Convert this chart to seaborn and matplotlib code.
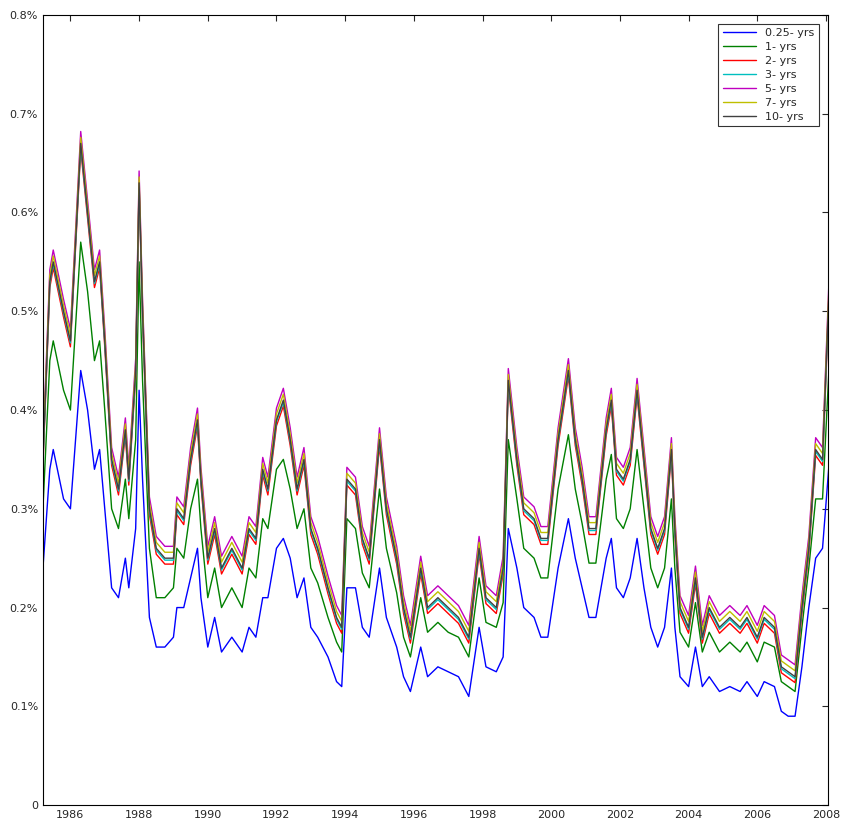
import pandas as pd
import matplotlib.pyplot as plt
import matplotlib.ticker as mticker
import seaborn as sns

# time points (decimal years)
years = [1985.2, 1985.4, 1985.5, 1985.8,
         1986.0, 1986.3, 1986.5, 1986.7, 1986.85,
         1987.0, 1987.2, 1987.4, 1987.6, 1987.7, 1987.9,
         1988.0, 1988.1, 1988.3, 1988.5, 1988.75,
         1989.0, 1989.1, 1989.3, 1989.5, 1989.7, 1989.8,
         1990.0, 1990.2, 1990.4, 1990.7,
         1991.0, 1991.2, 1991.4, 1991.6, 1991.75,
         1992.0, 1992.2, 1992.4, 1992.6, 1992.8,
         1993.0, 1993.2, 1993.5, 1993.75, 1993.9,
         1994.05, 1994.3, 1994.5, 1994.7,
         1995.0, 1995.2, 1995.5, 1995.7, 1995.9,
         1996.2, 1996.4, 1996.7,
         1997.0, 1997.3, 1997.6, 1997.9,
         1998.1, 1998.4, 1998.6, 1998.75,
         1999.0, 1999.2, 1999.5, 1999.7, 1999.9,
         2000.2, 2000.5, 2000.7, 2000.9,
         2001.1, 2001.3, 2001.6, 2001.75, 2001.9,
         2002.1, 2002.3, 2002.5, 2002.7, 2002.9,
         2003.1, 2003.3, 2003.5, 2003.6, 2003.75,
         2004.0, 2004.2, 2004.4, 2004.6, 2004.9,
         2005.2, 2005.5, 2005.7,
         2006.0, 2006.2, 2006.5, 2006.7, 2006.9,
         2007.1, 2007.3, 2007.5, 2007.7, 2007.9,
         2008.1]

# 10-yr series (percent)
y10 = [.35, .53, .55, .50,
       .47, .67, .60, .53, .55,
       .47, .35, .32, .38, .33, .44,
       .63, .50, .30, .26, .25,
       .25, .30, .29, .35, .39, .33,
       .25, .28, .24, .26,
       .24, .28, .27, .34, .32,
       .39, .41, .37, .32, .35,
       .28, .26, .22, .19, .18,
       .33, .32, .27, .25,
       .37, .30, .25, .20, .17,
       .24, .20, .21,
       .20, .19, .17, .26,
       .21, .20, .24, .43,
       .35, .30, .29, .27, .27,
       .37, .44, .37, .33,
       .28, .28, .38, .41, .34,
       .33, .35, .42, .35, .28,
       .26, .28, .36, .28, .20,
       .18, .23, .17, .20, .18,
       .19, .18, .19,
       .17, .19, .18, .14, .135,
       .13, .20, .26, .36, .35,
       .53]

# 0.25-yr series
y025 = [.24, .34, .36, .31,
        .30, .44, .40, .34, .36,
        .30, .22, .21, .25, .22, .28,
        .42, .33, .19, .16, .16,
        .17, .20, .20, .23, .26, .21,
        .16, .19, .155, .17,
        .155, .18, .17, .21, .21,
        .26, .27, .25, .21, .23,
        .18, .17, .15, .125, .12,
        .22, .22, .18, .17,
        .24, .19, .16, .13, .115,
        .16, .13, .14,
        .135, .13, .11, .18,
        .14, .135, .15, .28,
        .24, .20, .19, .17, .17,
        .24, .29, .25, .22,
        .19, .19, .25, .27, .22,
        .21, .23, .27, .22, .18,
        .16, .18, .24, .18, .13,
        .12, .16, .12, .13, .115,
        .12, .115, .125,
        .11, .125, .12, .095, .09,
        .09, .14, .20, .25, .26,
        .35]

# 1-yr series
y1 = [.30, .45, .47, .42,
      .40, .57, .52, .45, .47,
      .40, .30, .28, .33, .29, .37,
      .55, .43, .26, .21, .21,
      .22, .26, .25, .30, .33, .28,
      .21, .24, .20, .22,
      .20, .24, .23, .29, .28,
      .34, .35, .32, .28, .30,
      .24, .225, .19, .165, .155,
      .29, .28, .235, .22,
      .32, .26, .215, .17, .15,
      .21, .175, .185,
      .175, .17, .15, .23,
      .185, .18, .205, .37,
      .31, .26, .25, .23, .23,
      .32, .375, .32, .285,
      .245, .245, .33, .355, .29,
      .28, .30, .36, .30, .24,
      .22, .24, .31, .24, .175,
      .16, .205, .155, .175, .155,
      .165, .155, .165,
      .145, .165, .16, .125, .12,
      .115, .18, .24, .31, .31,
      .45]

# the 2- to 7-yr curves sit just around the 10-yr curve
gap_vs_10y = {"2- yrs": -0.006, "3- yrs": -0.002, "5- yrs": 0.012, "7- yrs": 0.006}

labels = ["0.25- yrs", "1- yrs", "2- yrs", "3- yrs", "5- yrs", "7- yrs", "10- yrs"]
colors = ["#0000ff", "#008000", "#ff0000", "#00bfbf", "#bf00bf", "#bfbf00", "#404040"]

series = {"0.25- yrs": y025, "1- yrs": y1, "10- yrs": y10}
for k, d in gap_vs_10y.items():
    series[k] = [v + d for v in y10]

rows = []
for lab in labels:
    for t, v in zip(years, series[lab]):
        rows.append({"year": t, "value": v, "maturity": lab})
df = pd.DataFrame(rows)

sns.set_style("white")
fig = plt.figure(figsize=(8.42, 8.30), dpi=100)
ax = fig.add_axes([0.051, 0.030, 0.932, 0.952])
sns.lineplot(data=df, x="year", y="value", hue="maturity", hue_order=labels,
             palette=colors, linewidth=1.0, ax=ax)

ax.set_xlim(1985.2, 2008.05)
ax.set_ylim(0, 0.8)
ax.set_xticks(range(1986, 2009, 2))
ax.set_yticks([0, .1, .2, .3, .4, .5, .6, .7, .8])
ax.yaxis.set_major_formatter(mticker.FuncFormatter(lambda v, p: "0" if v == 0 else f"{v:.1f}%"))
ax.tick_params(labelsize=8, direction="in", length=4, top=True, right=True)
ax.set_xlabel("")
ax.set_ylabel("")
for s in ax.spines.values():
    s.set_color("black")
    s.set_linewidth(0.8)

leg = ax.legend(loc="upper right", fontsize=8, frameon=True, fancybox=False,
                edgecolor="black", handlelength=3, borderaxespad=0.8,
                labelspacing=0.35)
leg.get_frame().set_linewidth(0.8)

plt.savefig("out.png", dpi=100)
plt.close()
